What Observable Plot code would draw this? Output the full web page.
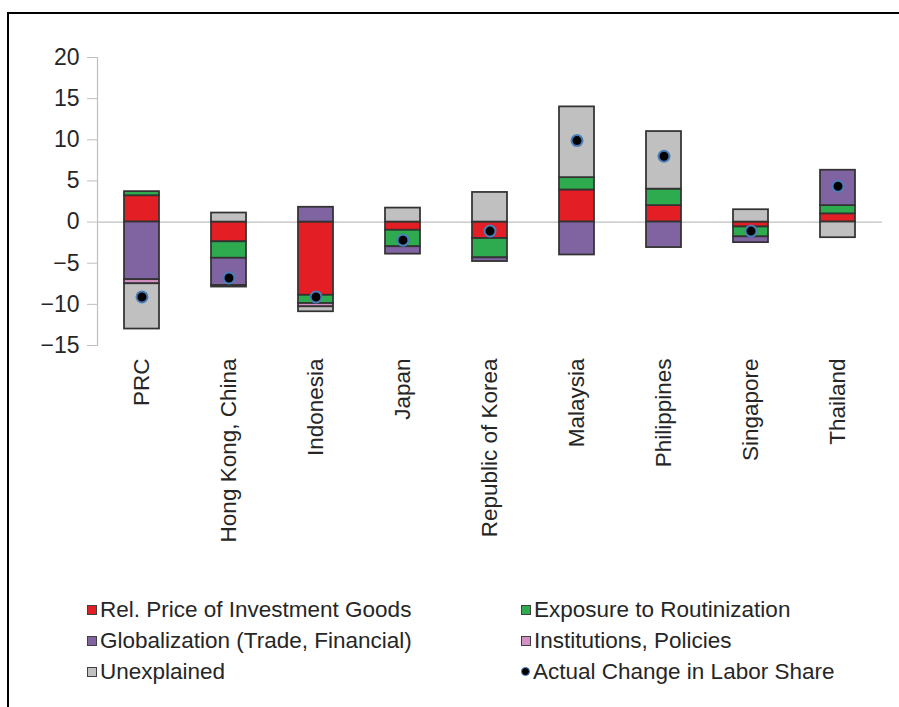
<!DOCTYPE html>
<html><head><meta charset="utf-8">
<script src="https://cdn.jsdelivr.net/npm/d3@7"></script>
<script src="https://cdn.jsdelivr.net/npm/@observablehq/plot@0.6"></script>
<style>
body{margin:0;background:#fff;font-family:"Liberation Sans",Arial,sans-serif;}
#wrap{position:relative;width:899px;height:707px;overflow:hidden;background:#fff;}
#frame{position:absolute;left:7px;top:12px;width:1000px;height:1000px;border-left:2px solid #000;border-top:2px solid #000;}
#chart{position:absolute;left:0;top:0;}
#legend{position:absolute;left:87px;top:594px;display:grid;grid-template-columns:434px auto;grid-auto-rows:31px;font-size:22.5px;color:#262626;}
.item{display:flex;align-items:center;white-space:nowrap;}
.sw{width:8px;height:8px;border:1.5px solid #404040;margin-right:3px;flex:none;}
.dot{width:7px;height:7px;border-radius:50%;background:#000;border:1.5px solid #4a7ebb;margin-right:3px;flex:none;}
</style>
</head>
<body>
<div id="wrap"><div id="frame"></div><div id="chart"></div><div id="legend"></div></div>
<script>
const categories = ["PRC","Hong Kong, China","Indonesia","Japan","Republic of Korea","Malaysia","Philippines","Singapore","Thailand"];
const relPrice       = [3.2, -2.4, -8.9, -1.0, -2.0, 3.9, 2.0, -0.6, 1.0];
const routinization  = [0.5, -2.0, -1.0, -2.0, -2.35, 1.5, 2.0, -1.2, 1.0];
const globalization  = [-7.0, -3.3, 1.8, -0.9, -0.45, -4.0, -3.1, -0.7, 4.3];
const institutions   = [-0.5, -0.2, -0.4, 0, 0, 0, 0, 0, 0];
const unexplained    = [-5.5, 1.1, -0.6, 1.7, 3.6, 8.6, 7.0, 1.5, -1.9];
const actualChange   = [-9.1, -6.8, -9.1, -2.2, -1.1, 9.9, 8.0, -1.1, 4.35];
const seriesNames = ["Rel. Price of Investment Goods","Exposure to Routinization","Globalization (Trade, Financial)","Institutions, Policies","Unexplained"];
const actualName = "Actual Change in Labor Share";
const yTicks = [-15,-10,-5,0,5,10,15,20];

const seriesValues = [relPrice, routinization, globalization, institutions, unexplained];
const seriesColors = ["#e31e24","#2eab4f","#8064a2","#d590c6","#c0c0c0"];

const table = [];
seriesValues.forEach((vals, i) => vals.forEach((v, j) => {
  if (v !== 0) table.push({country: categories[j], component: seriesNames[i], value: v});
}));
const actual = categories.map((c, j) => ({country: c, value: actualChange[j]}));

const chart = Plot.plot({
  width: 899, height: 560,
  marginTop: 57, marginBottom: 215, marginLeft: 97, marginRight: 17,
  x: {domain: categories, paddingInner: 0.6, paddingOuter: 0.3, axis: null},
  y: {domain: [-15, 20], axis: null},
  color: {domain: seriesNames, range: seriesColors},
  style: {fontFamily: '"Liberation Sans", Arial, sans-serif', background: "transparent", color: "#262626"},
  marks: [
    Plot.ruleY([0], {stroke: "#bfbfbf", strokeWidth: 1.2}),
    Plot.frame({anchor: "left", stroke: "#bfbfbf", strokeWidth: 1.2}),
    Plot.axisY({ticks: yTicks, tickSize: 10, tickPadding: 8, stroke: "#bfbfbf", fill: "#262626", fontSize: 23, label: null}),
    Plot.axisX({tickSize: 0, tickPadding: 13, tickRotate: -90, fill: "#262626", fontSize: 22.5, label: null}),
    Plot.barY(table, Plot.stackY({x: "country", y: "value", fill: "component", stroke: "#333", strokeWidth: 1.75})),
    Plot.dot(actual, {x: "country", y: "value", r: 5.5, fill: "#000", stroke: "#4a7ebb", strokeWidth: 2})
  ]
});
document.getElementById("chart").appendChild(chart);

const legendOrder = [0, 1, 2, 3, 4];
const legend = document.getElementById("legend");
legendOrder.forEach(i => {
  const d = document.createElement("div"); d.className = "item";
  const s = document.createElement("span"); s.className = "sw"; s.style.background = seriesColors[i];
  d.appendChild(s); d.appendChild(document.createTextNode(seriesNames[i]));
  legend.appendChild(d);
});
const d = document.createElement("div"); d.className = "item";
const s = document.createElement("span"); s.className = "dot";
d.appendChild(s); d.appendChild(document.createTextNode(actualName));
legend.appendChild(d);
</script>
</body></html>
